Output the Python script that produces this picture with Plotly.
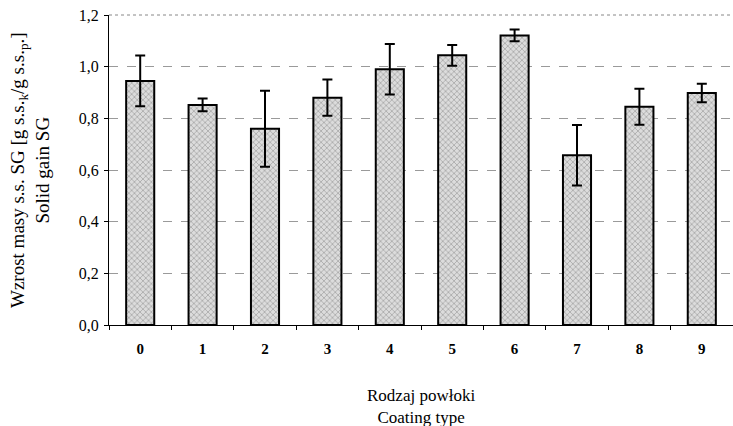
import plotly.graph_objects as go

categories = ["0", "1", "2", "3", "4", "5", "6", "7", "8", "9"]
sg_values = [0.945, 0.852, 0.760, 0.880, 0.990, 1.044, 1.121, 0.657, 0.845, 0.898]
sg_errors = [0.098, 0.025, 0.147, 0.070, 0.098, 0.040, 0.023, 0.117, 0.070, 0.036]
y_ticks = [0.0, 0.2, 0.4, 0.6, 0.8, 1.0, 1.2]
y_tick_labels = ["0,0", "0,2", "0,4", "0,6", "0,8", "1,0", "1,2"]

font_family = "Liberation Serif"

fig = go.Figure()
fig.add_trace(go.Bar(
    x=categories,
    y=sg_values,
    width=0.45,
    marker=dict(
        color="#d0d0d0",
        line=dict(color="black", width=2),
        pattern=dict(shape="x", size=4, solidity=0.4, fgcolor="#7e7e7e", bgcolor="#dcdcdc"),
    ),
    error_y=dict(type="data", array=sg_errors, visible=True, color="black", thickness=2, width=5),
))

fig.update_layout(
    width=733, height=426,
    margin=dict(l=109, r=0, t=15, b=101),
    plot_bgcolor="white", paper_bgcolor="white",
    showlegend=False,
    font=dict(family=font_family, size=14, color="black"),
    bargap=0.55,
)
fig.update_xaxes(
    type="category",
    showline=True, linecolor="black", linewidth=1,
    ticks="outside", tickson="boundaries", ticklen=4, tickcolor="black",
    tickfont=dict(family=font_family, size=15, color="black", weight="bold"),
    ticklabelstandoff=10,
    showgrid=False,
)
fig.update_yaxes(
    range=[0, 1.2],
    tickvals=y_ticks, ticktext=y_tick_labels,
    showline=True, linecolor="black", linewidth=1,
    ticks="outside", ticklen=4, tickcolor="black",
    tickfont=dict(family=font_family, size=16, color="black"),
    ticklabelstandoff=2,
    showgrid=True, gridcolor="#9a9a9a", griddash="dash", gridwidth=1,
    zeroline=False,
)
# top border line
fig.add_shape(type="line", xref="paper", yref="paper", x0=0, x1=1, y0=1, y1=1,
              line=dict(color="#888888", width=1, dash="dot"))

fig.add_annotation(
    xref="paper", yref="paper", x=-0.1266, y=0.5, xanchor="center", yanchor="middle",
    text="Wzrost masy s.s. SG [g s.s.<sub>k</sub>/g s.s.<sub>p</sub>.]<br>Solid gain SG",
    textangle=-90, showarrow=False, font=dict(family=font_family, size=19, color="black"),
)
fig.add_annotation(
    xref="paper", yref="paper", x=0.5, y=-0.262, xanchor="center", yanchor="middle",
    text="Rodzaj powłoki<br>Coating type",
    showarrow=False, font=dict(family=font_family, size=17, color="black"),
)

fig.write_html("out.html")
